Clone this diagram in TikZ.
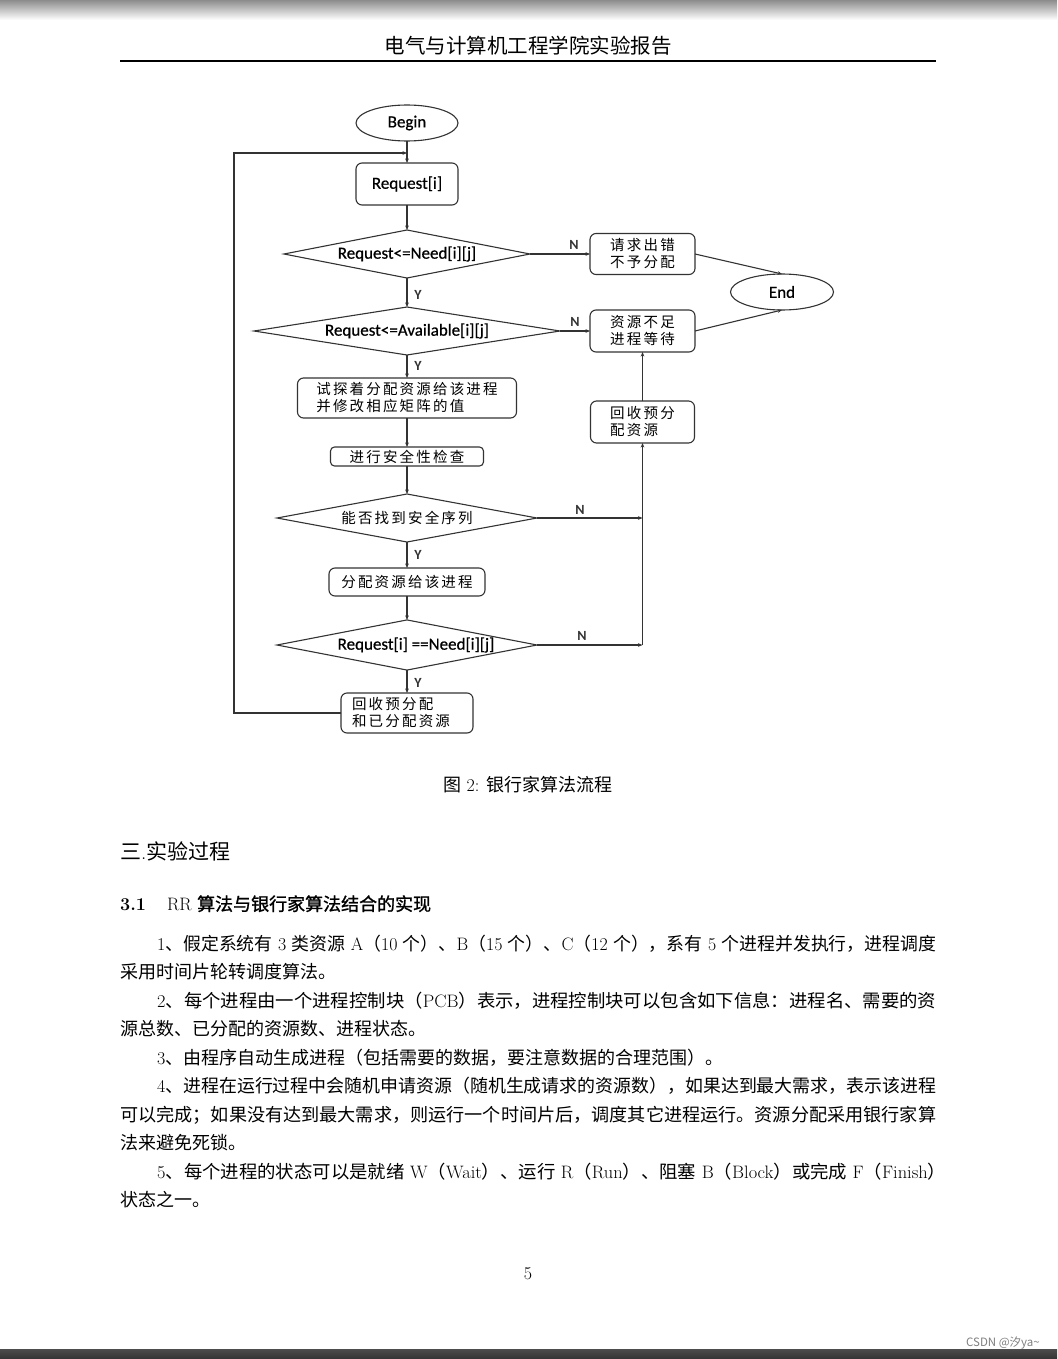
\documentclass[tikz,border=0pt]{standalone}
\usepackage{fontspec}
\usepackage{graphicx}
\usetikzlibrary{shapes.geometric,arrows.meta,calc}
\newfontfamily\cjk{Noto Sans CJK SC}
\newfontfamily\cjkls[LetterSpace=15]{Noto Sans CJK SC}
\newfontfamily\cjkb[FakeBold=1.2]{Noto Sans CJK SC}
\newfontfamily\carl{Carlito}
\newfontfamily\carlb[FakeBold=0.6]{Carlito}
\newcommand\latn[1]{{\rmfamily#1}}
\newcommand\bodyfont{\cjk\fontsize{18}{18}\selectfont}
\newcommand\jline[3]{\node[anchor=base west,inner sep=0] at (#1) {\resizebox{#2pt}{\height}{\bodyfont #3}};}
\newcommand\pline[2]{\node[anchor=base west,inner sep=0] at (#1) {\bodyfont #2};}
\definecolor{ink}{HTML}{333333}
\tikzset{
  ln/.style={draw=ink, line width=1.1pt},
  arr/.style={ln, -{Stealth[length=4.5pt,width=3.6pt]}},
  box/.style={draw=ink, line width=1.1pt, rounded corners=6pt, inner sep=0pt, outer sep=0pt,
    align=left, font={\cjkls\fontsize{14.5}{17}\selectfont}},
  boxlat/.style={box, font={\carlb\fontsize{17}{17}\selectfont}},
  dia/.style={diamond, aspect=5, draw=ink, line width=1.1pt, inner sep=0pt, outer sep=0pt,
    font={\carlb\fontsize{17}{17}\selectfont}},
  diacn/.style={dia, font={\cjkls\fontsize{14.5}{17}\selectfont}},
  ell/.style={ellipse, draw=ink, line width=1.1pt, inner sep=0pt, outer sep=0pt,
    font={\carlb\fontsize{17}{17}\selectfont}},
  lab/.style={inner sep=0pt, font={\carl\bfseries\fontsize{14}{14}\selectfont}, text=ink},
}
\begin{document}
\begin{tikzpicture}[x=1pt,y=-1pt]
\useasboundingbox (0,0) rectangle (1057,1359);
\fill[white] (0,0) rectangle (1057,1359);
\shade[top color=black!45, bottom color=white] (0,0) rectangle (1057,20);
\shade[top color=black!70, bottom color=black!80] (0,1349) rectangle (1057,1359);

% header
\node[anchor=base, inner sep=0] (hdr) at (528,53.5) {\cjk\fontsize{20.5}{20.5}\selectfont 电气与计算机工程学院实验报告};
\draw[line width=1.4pt] (120,61) -- (936,61);

% flowchart nodes
\node[ell, minimum width=102, minimum height=36] (begin) at (407,123) {Begin};
\node[boxlat, minimum width=102, minimum height=42] (req) at (407,184) {Request[i]};
\node[dia, minimum width=246, minimum height=48] (d1) at (407,254) {Request<=Need[i][j]};
\node[box, minimum width=105, minimum height=41] (err) at (642.5,254) {请求出错\\不予分配};
\node[ell, minimum width=103, minimum height=36] (end) at (782,292) {End};
\node[dia, minimum width=306, minimum height=46] (d2) at (407,331) {Request<=Available[i][j]};
\node[box, minimum width=105, minimum height=42] (wait) at (642.5,331) {资源不足\\进程等待};
\node[box, minimum width=219, minimum height=40] (try) at (407,398) {试探着分配资源给该进程\\并修改相应矩阵的值};
\node[box, minimum width=153, minimum height=19, rounded corners=4pt] (chk) at (407,456.5) {进行安全性检查};
\node[diacn, minimum width=260, minimum height=48] (d3) at (407,518) {能否找到安全序列};
\node[box, minimum width=156, minimum height=28] (alloc) at (407,582) {分配资源给该进程};
\node[dia, minimum width=260, minimum height=46] (d4) at (407,645) {\hspace*{18pt}Request[i] ==Need[i][j]};
\node[box, minimum width=104, minimum height=42] (recr) at (642.5,422) {回收预分\\配资源};
\node[box, minimum width=132, minimum height=40] (back) at (407,713) {回收预分配\hspace*{12pt}\\和已分配资源\hspace*{12pt}};

\coordinate (lt) at (407,153);
\coordinate (ll) at (234,153);
\coordinate (j3) at (642.5,518);
\coordinate (j4) at (642.5,645);

% connectors
\draw[arr] (begin) -- (req);
\draw[arr] (back.west) -| (ll) -- (lt);
\draw[arr] (req) -- (d1);
\draw[arr] (d1.east) -- (err.west);
\draw[arr] (d1) -- (d2);
\draw[arr] (d2.east) -- (wait.west);
\draw[arr] (err.east) -- (end.north);
\draw[arr] (wait.east) -- (end.south);
\draw[arr] (d2) -- (try);
\draw[arr] (try) -- (chk);
\draw[arr] (chk) -- (d3);
\draw[arr] (d3) -- (alloc);
\draw[arr] (alloc) -- (d4);
\draw[arr] (d4) -- (back);
\draw[arr] (d3.east) -- (j3);
\draw[arr] (d4.east) -- (j4);
\draw[arr] (j4) -- (recr.south);
\draw[arr] (recr) -- (wait);

% labels
\node[lab] (n1) at (574,245) {N};
\node[lab] (y1) at (418,295) {Y};
\node[lab] (n2) at (575,322) {N};
\node[lab] (y2) at (418,366) {Y};
\node[lab] (n3) at (580,510) {N};
\node[lab] (y3) at (418,555) {Y};
\node[lab] (n4) at (582,636) {N};
\node[lab] (y4) at (418,683) {Y};

% caption
\node[anchor=base, inner sep=0] (cap) at (528,791.6) {\cjk\fontsize{18}{18}\selectfont 图\latn{ 2: }银行家算法流程};

% section headings
\node[anchor=base west, inner sep=0] (sec) at (120,859) {\cjk\fontsize{21}{21}\selectfont 三\latn{.}实验过程};
\node[anchor=base west, inner sep=0] (sub) at (120,910.6) {\fontsize{18}{18}\selectfont\rmfamily\bfseries 3.1};
\node[anchor=base west, inner sep=0] (subt) at (167,910.6) {\fontsize{18}{18}\selectfont\rmfamily RR \cjkb 算法与银行家算法结合的实现};

% body
\jline{157,950.5}{779}{\latn{1}、假定系统有\latn{ 3 }类资源\latn{ A}（\latn{10 }个）、\latn{B}（\latn{15 }个）、\latn{C}（\latn{12 }个），系有\latn{ 5 }个进程并发执行，进程调度}
\pline{120,978.5}{采用时间片轮转调度算法。}
\jline{157,1007.5}{779}{\latn{2}、每个进程由一个进程控制块（\latn{PCB}）表示，进程控制块可以包含如下信息：进程名、需要的资}
\pline{120,1035.5}{源总数、已分配的资源数、进程状态。}
\pline{157,1064.5}{\latn{3}、由程序自动生成进程（包括需要的数据，要注意数据的合理范围）。}
\jline{157,1092.5}{779}{\latn{4}、进程在运行过程中会随机申请资源（随机生成请求的资源数），如果达到最大需求，表示该进程}
\jline{120,1121.5}{816}{可以完成；如果没有达到最大需求，则运行一个时间片后，调度其它进程运行。资源分配采用银行家算}
\pline{120,1149.5}{法来避免死锁。}
\jline{157,1178.5}{789}{\latn{5}、每个进程的状态可以是就绪\latn{ W}（\latn{Wait}）、运行\latn{ R}（\latn{Run}）、阻塞\latn{ B}（\latn{Block}）或完成\latn{ F}（\latn{Finish}）}
\pline{120,1206.5}{状态之一。}

% page number and watermark
\node[anchor=base, inner sep=0] (pg) at (528,1279) {\fontsize{18}{18}\selectfont\rmfamily 5};
\node[anchor=east, inner sep=0, text=black!50] (wm) at (1040,1343) {\cjk\fontsize{11.5}{11.5}\selectfont CSDN @汐ya\textasciitilde};
\end{tikzpicture}
\end{document}
